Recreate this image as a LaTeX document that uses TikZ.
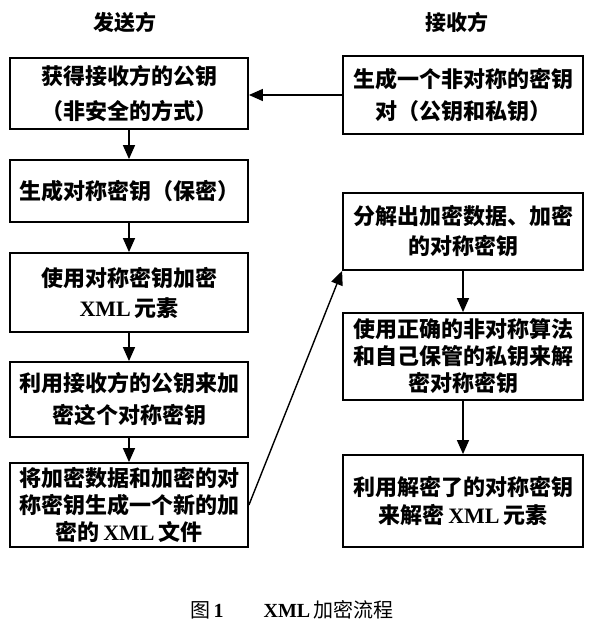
\documentclass[tikz,border=0pt]{standalone}
\usepackage{fontspec}
\newfontfamily\cjk{Noto Sans CJK SC}
\newfontfamily\latinserif{Liberation Serif}
\usetikzlibrary{arrows.meta,positioning}
\newcommand{\xmltag}{{\latinserif\bfseries XML}}
\tikzset{
  stepbox/.style={draw,line width=0.9pt,inner sep=2pt,align=center,
    font=\cjk\bfseries\fontsize{11}{15}\selectfont},
  leftbox/.style={stepbox,minimum width=119pt,text width=115pt},
  rightbox/.style={stepbox,minimum width=120pt,text width=116pt},
  flow/.style={-{Triangle[length=7pt,width=6pt]},line width=0.7pt},
  sidehead/.style={font=\cjk\bfseries\fontsize{10.5}{12}\selectfont}
}
\begin{document}
\begin{tikzpicture}[x=0.5pt,y=-0.5pt]
\useasboundingbox (0,0) rectangle (593,625);
% headers
\node[sidehead] (hsend) at (125,22) {发送方};
\node[sidehead] (hrecv) at (457,22) {接收方};
% sender side
\node[leftbox,minimum height=35.5pt,font=\cjk\bfseries\fontsize{11}{17.5}\selectfont] (l1) at (129,93.5) {获得接收方的公钥\\（非安全的方式）};
\node[leftbox,minimum height=31pt] (l2) at (129,191) {生成对称密钥（保密）};
\node[leftbox,minimum height=39.5pt] (l3) at (129,292.5) {使用对称密钥加密\\\xmltag\,元素};
\node[leftbox,minimum height=37.5pt,font=\cjk\bfseries\fontsize{11}{16}\selectfont] (l4) at (129,399.5) {利用接收方的公钥来加\\密这个对称密钥};
\node[leftbox,minimum height=42pt,font=\cjk\bfseries\fontsize{11}{13.5}\selectfont] (l5) at (129,505) {将加密数据和加密的对\\称密钥生成一个新的加\\密的\,\xmltag\,文件};
% receiver side
\node[rightbox,minimum height=39pt,font=\cjk\bfseries\fontsize{11}{16}\selectfont] (r1) at (463,95) {生成一个非对称的密钥\\对（公钥和私钥）};
\node[rightbox,minimum height=38.5pt] (r2) at (463,231.5) {分解出加密数据、加密\\的对称密钥};
\node[rightbox,minimum height=43.5pt,font=\cjk\bfseries\fontsize{11}{13.5}\selectfont] (r3) at (463,356.5) {使用正确的非对称算法\\和自己保管的私钥来解\\密对称密钥};
\node[rightbox,minimum height=46pt,font=\cjk\bfseries\fontsize{11}{14}\selectfont] (r4) at (463,501) {利用解密了的对称密钥\\来解密\,\xmltag\,元素};
% arrows
\draw[flow] (l1) -- (l2);
\draw[flow] (l2) -- (l3);
\draw[flow] (l3) -- (l4);
\draw[flow] (l4) -- (l5);
\draw[flow] (r1.west) -- (r1.west -| l1.east);
\draw[flow] (l5.east) -- (r2.south west);
\draw[flow] (r2) -- (r3);
\draw[flow] (r3) -- (r4);
% caption
\node[font=\cjk\fontsize{10}{12}\selectfont] (cap) at (292,610) {图\,{\latinserif\bfseries 1}\hspace{2em}{\latinserif\bfseries XML}\,加密流程};
\end{tikzpicture}
\end{document}
